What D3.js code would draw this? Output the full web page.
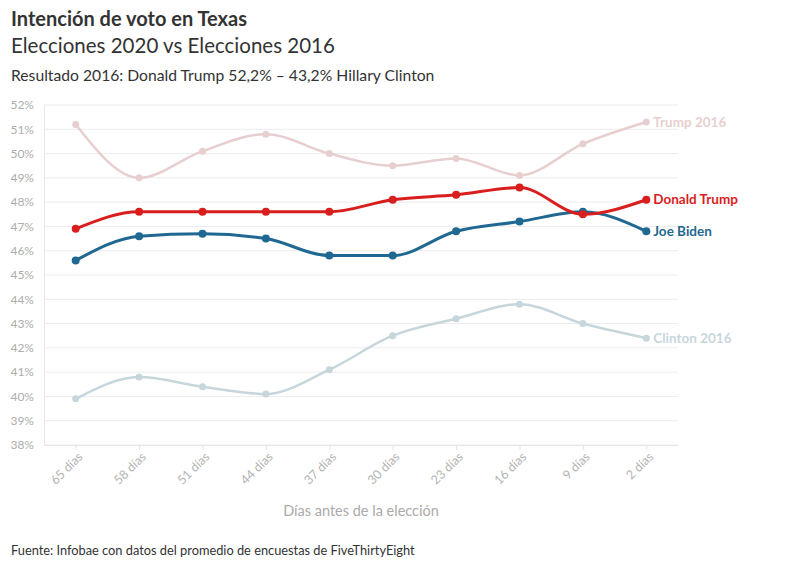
<!DOCTYPE html>
<html>
<head>
<meta charset="utf-8">
<script src="https://cdn.jsdelivr.net/npm/d3@7"></script>
<style>
  body { margin: 0; background: #fff; font-family: "Source Sans Pro", Lato, "Open Sans", sans-serif; }
  svg { display: block; }
</style>
</head>
<body>
<svg width="803" height="568"></svg>
<script>
var dias = ["65 días", "58 días", "51 días", "44 días", "37 días", "30 días", "23 días", "16 días", "9 días", "2 días"];
var trump2016 = [51.2, 49.0, 50.1, 50.8, 50.0, 49.5, 49.8, 49.1, 50.4, 51.3];
var trump2020 = [46.9, 47.6, 47.6, 47.6, 47.6, 48.1, 48.3, 48.6, 47.5, 48.1];
var biden2020 = [45.6, 46.6, 46.7, 46.5, 45.8, 45.8, 46.8, 47.2, 47.6, 46.8];
var clinton2016 = [39.9, 40.8, 40.4, 40.1, 41.1, 42.5, 43.2, 43.8, 43.0, 42.4];
var yTicks = d3.range(38, 53, 1);

var series = [
  {name: "Trump 2016", values: trump2016, color: "#e8cfcf", width: 2.5, r: 3.5},
  {name: "Clinton 2016", values: clinton2016, color: "#c6d6db", width: 2.5, r: 3.5},
  {name: "Joe Biden", values: biden2020, color: "#1f6892", width: 3, r: 4},
  {name: "Donald Trump", values: trump2020, color: "#d91e1e", width: 3, r: 4}
];

var margin = {top: 105, right: 125, bottom: 123, left: 44};
var width = 803, height = 568;
var svg = d3.select("svg");

var x = d3.scalePoint()
    .domain(dias)
    .range([margin.left, width - margin.right])
    .padding(0.5);
var y = d3.scaleLinear()
    .domain([38, 52])
    .range([height - margin.bottom, margin.top]);

// grid
svg.append("g")
    .selectAll("line")
    .data(yTicks)
    .enter().append("line")
    .attr("x1", margin.left)
    .attr("x2", width - margin.right)
    .attr("y1", d => y(d))
    .attr("y2", d => y(d))
    .attr("stroke", "#ececec")
    .attr("stroke-width", 1);

// y axis
var yAxis = d3.axisLeft(y)
    .tickValues(yTicks)
    .tickFormat(d => d + "%")
    .tickSize(0)
    .tickPadding(10);
var gy = svg.append("g")
    .attr("transform", "translate(" + [margin.left, 0] + ")")
    .call(yAxis);
gy.select(".domain").attr("stroke", "#e6e6e6");
gy.selectAll("text").attr("fill", "#adadad").style("font-size", "12px").style("font-family", "Lato, sans-serif");

// x axis
var xAxis = d3.axisBottom(x).tickSize(5).tickPadding(4);
var gx = svg.append("g")
    .attr("transform", "translate(" + [0, height - margin.bottom] + ")")
    .call(xAxis);
gx.select(".domain").attr("stroke", "#e6e6e6").attr("d", "M" + margin.left + ",0.5H" + (width - margin.right));
gx.selectAll(".tick line").attr("stroke", "#e6e6e6");
gx.selectAll("text")
    .attr("fill", "#b3b3b3")
    .style("font-size", "12.5px")
    .style("font-family", "Lato, sans-serif")
    .attr("text-anchor", "end")
    .attr("dx", "-0.3em")
    .attr("dy", "0.4em")
    .attr("transform", "rotate(-45)");

var line = d3.line()
    .x((d, i) => x(dias[i]))
    .y(d => y(d))
    .curve(d3.curveMonotoneX);

series.forEach(function(s) {
  var g = svg.append("g");
  g.append("path")
      .attr("d", line(s.values))
      .attr("fill", "none")
      .attr("stroke", s.color)
      .attr("stroke-width", s.width);
  g.selectAll("circle")
      .data(s.values)
      .enter().append("circle")
      .attr("cx", (d, i) => x(dias[i]))
      .attr("cy", d => y(d))
      .attr("r", s.r)
      .attr("fill", s.color);
  g.append("text")
      .attr("x", x(dias[dias.length - 1]) + 7)
      .attr("y", y(s.values[s.values.length - 1]))
      .attr("dy", "0.35em")
      .attr("fill", s.color)
      .style("font-size", "13.5px")
      .style("font-weight", "bold")
      .text(s.name);
});

// titles
svg.append("text").attr("x", 11).attr("y", 26)
    .attr("fill", "#333").style("font-size", "20px").style("font-weight", "bold")
    .text("Intención de voto en Texas");
svg.append("text").attr("x", 11).attr("y", 53)
    .attr("fill", "#333").style("font-size", "20.5px")
    .text("Elecciones 2020 vs Elecciones 2016");
svg.append("text").attr("x", 11).attr("y", 81)
    .attr("fill", "#333").style("font-size", "15.7px")
    .text("Resultado 2016: Donald Trump 52,2% – 43,2% Hillary Clinton");

svg.append("text").attr("x", (margin.left + width - margin.right) / 2).attr("y", 516)
    .attr("text-anchor", "middle")
    .attr("fill", "#aaa").style("font-size", "14.5px")
    .text("Días antes de la elección");

svg.append("text").attr("x", 11).attr("y", 555)
    .attr("fill", "#333").style("font-size", "12.8px")
    .text("Fuente: Infobae con datos del promedio de encuestas de FiveThirtyEight");
</script>
</body>
</html>
